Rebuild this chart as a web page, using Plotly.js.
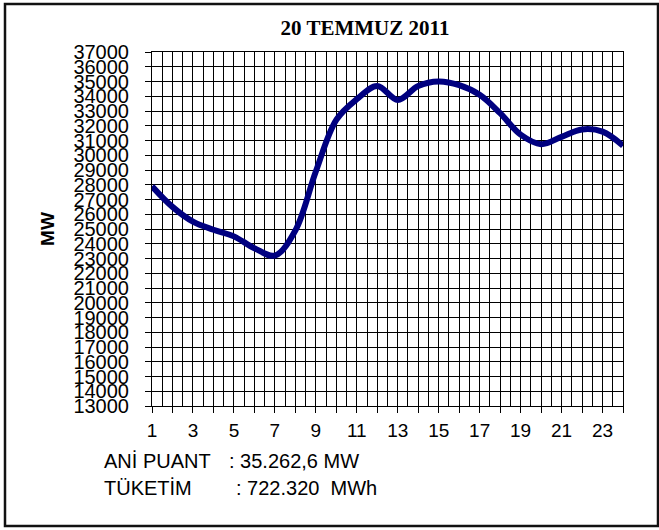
<!DOCTYPE html>
<html><head><meta charset="utf-8">
<script src="https://cdn.plot.ly/plotly-3.0.1.min.js"></script>
<style>html,body{margin:0;padding:0;background:#fff;}#chart{width:659px;height:530px;}</style>
</head><body><div id="chart"></div>
<script>
const hours = [1,2,3,4,5,6,7,8,9,10,11,12,13,14,15,16,17,18,19,20,21,22,23,24];
const loadMW = [27900,26500,25500,24950,24500,23700,23200,24900,28900,32400,33800,34700,33750,34700,35000,34750,34100,32850,31400,30750,31250,31750,31600,30650];
const xTickVals = hours;
const xTickText = hours.map(h => (h % 2 === 1 ? String(h) : ''));
const yTickVals = [13000,14000,15000,16000,17000,18000,19000,20000,21000,22000,23000,24000,25000,26000,27000,28000,29000,30000,31000,32000,33000,34000,35000,36000,37000];
const titleText = '20 TEMMUZ 2011';
const yTitle = 'MW';

const W = 659, H = 530;
const m = {l:152, r:36, t:52, b:124};
const pw = W - m.l - m.r, ph = H - m.t - m.b;
const px = x => (x - m.l) / pw;
const py = y => (H - m.b - y) / ph;

const trace = {
  x: hours, y: loadMW, type: 'scatter', mode: 'lines',
  line: {color: '#000080', width: 6, shape: 'spline', smoothing: 1},
  hoverinfo: 'skip'
};

const txt = (s, x, y) => ({text: s, x: px(x), y: py(y), xref: 'paper', yref: 'paper',
  xanchor: 'left', yanchor: 'middle', showarrow: false,
  font: {family: 'Liberation Sans, Arial, sans-serif', size: 20, color: '#000'}});

const layout = {
  width: W, height: H, margin: m,
  paper_bgcolor: '#fff', plot_bgcolor: '#fff', showlegend: false,
  title: {text: '<b>' + titleText + '</b>', xref: 'container', yref: 'container',
    x: 365 / W, xanchor: 'center', y: 1 - 28 / H, yanchor: 'middle',
    font: {family: 'Liberation Serif, Times New Roman, serif', size: 21, color: '#000'}},
  xaxis: {
    range: [1, 24], tickmode: 'array', tickvals: xTickVals, ticktext: xTickText,
    ticks: 'outside', ticklen: 6, tickcolor: '#000', tickwidth: 1,
    showgrid: true, gridcolor: '#000', gridwidth: 1,
    minor: {dtick: 0.5, tick0: 1, showgrid: true, gridcolor: '#000', gridwidth: 1},
    showline: true, linecolor: '#000', linewidth: 1, mirror: true,
    zeroline: false, ticklabelstandoff: 1,
    tickfont: {family: 'Liberation Sans, Arial, sans-serif', size: 19, color: '#000'}
  },
  yaxis: {
    range: [13000, 37000], tickmode: 'array', tickvals: yTickVals, ticktext: yTickVals.map(String),
    ticks: 'outside', ticklen: 6, tickcolor: '#000', tickwidth: 1,
    showgrid: true, gridcolor: '#000', gridwidth: 1,
    showline: true, linecolor: '#000', linewidth: 1, mirror: true,
    zeroline: false, ticklabelstandoff: 12,
    tickfont: {family: 'Liberation Sans, Arial, sans-serif', size: 20, color: '#000'},
    title: {text: '<b>' + yTitle + '</b>', standoff: 13,
      font: {family: 'Liberation Sans, Arial, sans-serif', size: 19, color: '#000'}}
  },
  shapes: [{type: 'rect', xref: 'paper', yref: 'paper', x0: px(5), x1: px(658), y0: py(526), y1: py(4),
    line: {color: '#111', width: 2.5}, fillcolor: 'rgba(0,0,0,0)'}],
  annotations: [
    txt('ANİ PUANT', 102, 461),
    txt(': 35.262,6 MW', 227, 461),
    txt('TÜKETİM', 102, 488),
    txt(': 722.320\u00a0 MWh', 234, 488)
  ]
};

Plotly.newPlot('chart', [trace], layout, {displayModeBar: false, staticPlot: true});
</script>
</body></html>
